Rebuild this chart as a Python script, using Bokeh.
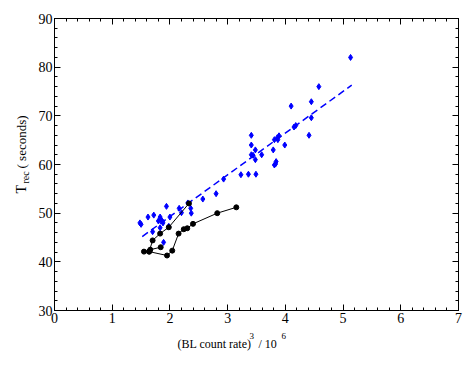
from bokeh.plotting import figure
from bokeh.models import LinearAxis, SingleIntervalTicker, Label, Range1d
from bokeh.embed import file_html
from bokeh.resources import INLINE
import math

# Blue diamonds: (BL count rate)^3/1e6 vs T_rec
blue_x = [5.13, 4.58, 4.45, 4.10, 4.45, 4.18, 4.15, 4.41, 3.89, 3.86, 3.81, 3.87,
          3.99, 3.79, 3.59, 3.84, 3.83, 3.81, 3.41, 3.41, 3.48, 3.41, 3.44, 3.48,
          3.23, 3.36, 3.49, 2.93, 2.80, 2.57, 2.36, 2.37, 2.31, 2.16, 2.20, 1.94,
          1.72, 1.48, 1.50, 1.62, 1.83, 1.85, 1.87, 1.88, 1.80, 2.00, 1.70, 1.83,
          1.89, 1.98]
blue_y = [82.0, 76.0, 72.9, 72.0, 69.6, 68.0, 67.7, 66.0, 65.9, 65.5, 65.1, 65.1,
          64.0, 63.0, 62.0, 60.6, 60.1, 59.9, 66.0, 64.0, 63.0, 62.0, 61.9, 61.0,
          57.9, 58.0, 58.0, 57.0, 54.0, 52.9, 51.0, 50.0, 52.1, 51.0, 50.1, 51.4,
          49.6, 48.0, 47.7, 49.2, 49.2, 48.6, 48.3, 48.0, 48.4, 49.2, 46.2, 47.0,
          44.0, 47.3]

# Linear fit (endpoints)
fit_x = [1.52, 5.15]
fit_y = [45.2, 76.3]

# Black connected series
black1_x = [3.15, 2.82, 2.40, 2.30, 2.24, 2.15, 2.04, 1.95, 1.64, 1.55]
black1_y = [51.2, 50.0, 47.8, 46.9, 46.7, 45.8, 42.3, 41.3, 42.1, 42.1]
black2_x = [1.64, 1.70, 1.83, 1.98, 2.33]
black2_y = [42.1, 44.4, 45.8, 47.1, 52.0]
black3_x = [1.66, 1.84]
black3_y = [42.5, 43.0]

x_ticks = [0, 1, 2, 3, 4, 5, 6, 7]
y_ticks = [30, 40, 50, 60, 70, 80, 90]

FONT = "Liberation Serif"

p = figure(width=473, height=365, output_backend="svg", toolbar_location=None,
           x_range=Range1d(x_ticks[0], x_ticks[-1]), y_range=Range1d(y_ticks[0], y_ticks[-1]),
           x_axis_location=None, y_axis_location=None,
           min_border_left=54, min_border_right=15, min_border_top=18, min_border_bottom=55)
p.xgrid.visible = False
p.ygrid.visible = False
p.outline_line_color = "black"
p.outline_line_width = 1
p.background_fill_color = "white"
p.border_fill_color = "white"

def make_axis(ticker_interval, show_labels):
    ax = LinearAxis(ticker=SingleIntervalTicker(interval=ticker_interval, num_minor_ticks=5))
    ax.major_tick_in = 6
    ax.major_tick_out = 0
    ax.minor_tick_in = 3
    ax.minor_tick_out = 0
    ax.axis_line_color = "black"
    ax.major_tick_line_color = "black"
    ax.minor_tick_line_color = "black"
    ax.major_label_text_font = FONT
    if show_labels:
        ax.major_label_text_font_size = "14px"
        ax.major_label_text_color = "black"
        ax.major_label_standoff = 2
    else:
        ax.major_label_text_font_size = "1px"
        ax.major_label_text_color = None
        ax.major_label_standoff = 0
    return ax

p.add_layout(make_axis(1, True), "below")
p.add_layout(make_axis(10, True), "left")
p.add_layout(make_axis(1, False), "above")
p.add_layout(make_axis(10, False), "right")

p.line(fit_x, fit_y, line_color="#0000ff", line_width=1.5, line_dash="7 4")
p.scatter(blue_x, blue_y, marker="diamond", size=6, fill_color="#0000ff", line_color="#0000ff")

for bx, by in [(black1_x, black1_y), (black2_x, black2_y), (black3_x, black3_y)]:
    p.line(bx, by, line_color="black", line_width=1)
    p.scatter(bx, by, marker="circle", size=5, fill_color="black", line_color="black")

# Axis titles as labels placed in canvas pixels, attached to side panels
def lab(text, x, y, size, side, angle=0):
    p.add_layout(Label(x=x, y=y, x_units="canvas", y_units="canvas", text=text,
                       text_font=FONT, text_font_size=size, text_color="black",
                       angle=angle, text_align="left", text_baseline="alphabetic"), side)

lab("(BL count rate)", 177, 343, "12px", "below")
lab("3", 249, 335, "9px", "below")
lab("/ 10", 258, 343, "12px", "below")
lab("6", 281, 335, "9px", "below")

lab("T", 21, 193, "14px", "above", angle=math.pi / 2)
lab("rec", 25, 183, "10px", "left", angle=math.pi / 2)
lab("( seconds)", 21, 168, "13px", "left", angle=math.pi / 2)

open("out.html", "w").write(file_html(p, INLINE))
